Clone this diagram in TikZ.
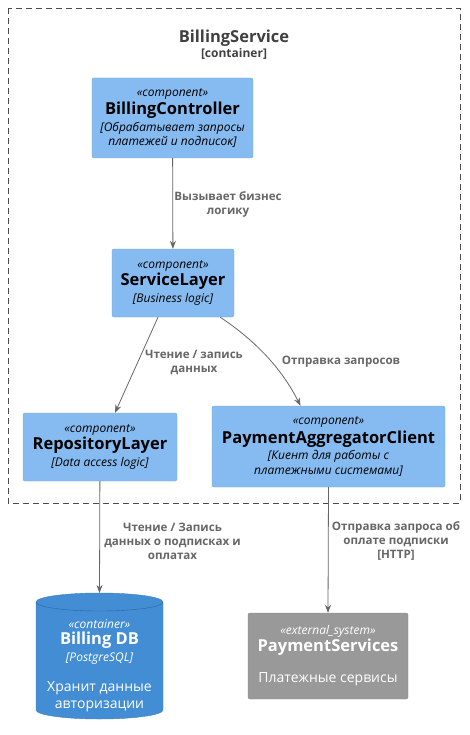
\documentclass[tikz,border=0pt]{standalone}
\usepackage{fontspec}
\setmainfont{Open Sans}
\usetikzlibrary{arrows.meta}
\definecolor{compfill}{HTML}{85BBF0}
\definecolor{compline}{HTML}{78A8D8}
\definecolor{dbfill}{HTML}{438DD5}
\definecolor{dbline}{HTML}{3C7FC0}
\definecolor{extfill}{HTML}{999999}
\definecolor{extline}{HTML}{8A8A8A}
\definecolor{relgray}{HTML}{666666}
\newcommand{\stereo}[1]{{\itshape\fontsize{12}{14}\selectfont «#1»}}
\newcommand{\ctitle}[1]{{\bfseries\fontsize{16.5}{18}\selectfont #1}}
\tikzset{
	comp/.style={draw=compline, fill=compfill, rounded corners=2pt, align=center, inner sep=0pt, font=\fontsize{12}{14.5}\selectfont},
	rel/.style={draw=relgray, -{Stealth[length=8pt,width=6pt]}, line width=0.8pt},
	rellabel/.style={text=relgray, align=center, font=\bfseries\fontsize{11.6}{14}\selectfont},
	ctext/.style={text=white, align=center, inner sep=0pt, font=\fontsize{14}{16.5}\selectfont},
}
\begin{document}
	\begin{tikzpicture}[x=1pt,y=-1pt]
		\useasboundingbox (0,0) rectangle (469,735);
		% container boundary
		\draw[black!70, dash pattern=on 6pt off 4pt] (8,8) rectangle (460,503);
		\node[text=black!75, align=center, font=\bfseries\fontsize{16.5}{18}\selectfont] (bs) at (234,38) {BillingService};
		\node[text=black!75, font=\bfseries\fontsize{12}{14}\selectfont] (bstype) at (234,54) {[container]};
		% components
		\node[comp, minimum width=161pt, minimum height=80pt] (bc) at (172.5,118)
			{\stereo{component}\\[2pt]\ctitle{BillingController}\\[2pt]{\itshape [Обрабатывает запросы}\\{\itshape платежей и подписок]}};
		\node[comp, minimum width=122pt, minimum height=68pt] (sl) at (173,283)
			{\stereo{component}\\[1pt]\ctitle{ServiceLayer}\\[2pt]{\itshape [Business logic]}};
		\node[comp, minimum width=154pt, minimum height=68pt] (rl) at (100,447)
			{\stereo{component}\\[1pt]\ctitle{RepositoryLayer}\\[2pt]{\itshape [Data access logic]}};
		\node[comp, minimum width=233pt, minimum height=81pt] (pac) at (328.5,446.5)
			{\stereo{component}\\[2pt]\ctitle{PaymentAggregatorClient}\\[2pt]{\itshape [Киент для работы с}\\{\itshape платежными системами]}};
		% database cylinder
		\draw[dbline, fill=dbfill] (36,602) -- (36,710) arc[start angle=180, end angle=360, x radius=63.5pt, y radius=9pt]
			-- (163,602) arc[start angle=0, end angle=180, x radius=63.5pt, y radius=9pt] -- cycle;
		\draw[dbline!80!black, line width=0.4pt] (36,602) arc[start angle=180, end angle=360, x radius=63.5pt, y radius=9pt];
		\coordinate (dbtop) at (99.5,593);
		\node[ctext] (db) at (99.5,665.5)
			{\stereo{container}\\\ctitle{Billing DB}\\{\itshape\fontsize{12}{14}\selectfont [PostgreSQL]}\\[14pt]Хранит данные\\авторизации};
		% external system
		\node[ctext, draw=extline, fill=extfill, rounded corners=2pt, minimum width=160pt, minimum height=86pt] (ps) at (328,656)
			{\stereo{external\_system}\\\ctitle{PaymentServices}\\[15pt]Платежные сервисы};
		% relations
		\draw[rel] (bc) -- (sl);
		\draw[rel] ([xshift=-15pt]sl.south) -- ([xshift=15pt]rl.north);
		\draw[rel] ([xshift=-14pt]sl.south east) .. controls (262,345) and (285,375) .. ([xshift=-28pt]pac.north);
		\draw[rel] (rl) -- (dbtop);
		\draw[rel] (pac.south) -- (ps.north);
		\node[rellabel] (l1) at (228,204.5) {Вызывает бизнес\\логику};
		\node[rellabel] (l2) at (194,362) {Чтение / запись\\данных};
		\node[rellabel] (l3) at (341,362) {Отправка запросов};
		\node[rellabel] (l4) at (172.5,541) {Чтение / Запись\\данных о подписках и\\оплатах};
		\node[rellabel] (l5) at (396,541) {Отправка запроса об\\оплате подписки\\{}[HTTP]};
	\end{tikzpicture}
\end{document}
